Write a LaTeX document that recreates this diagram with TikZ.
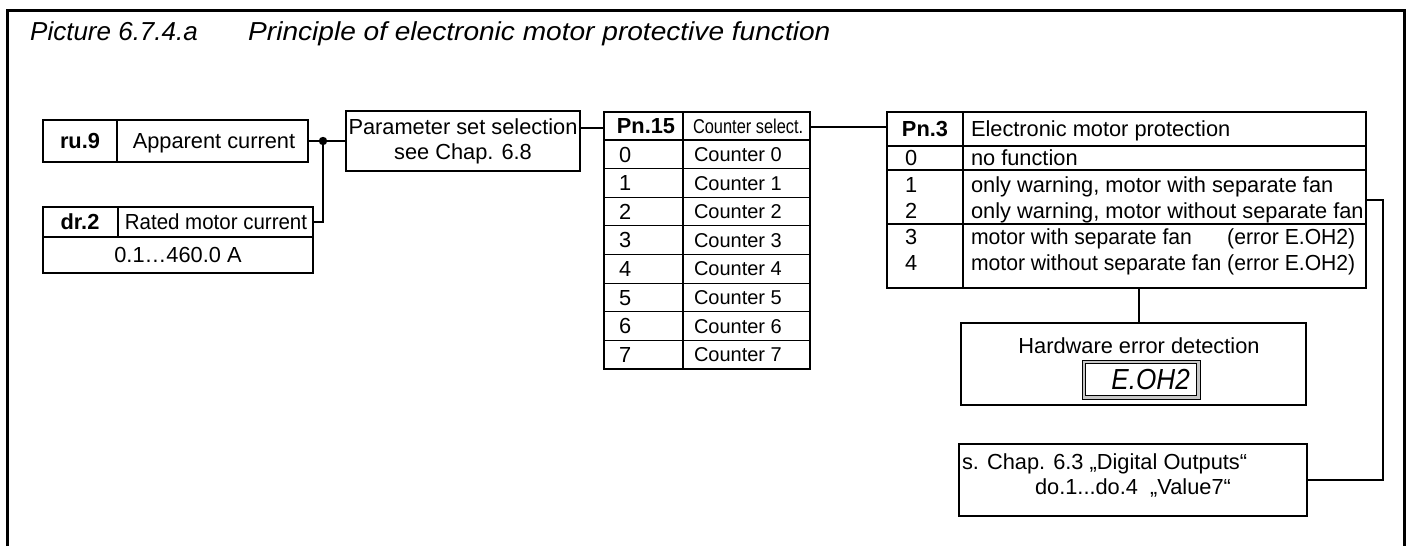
\documentclass[tikz,border=0pt]{standalone}
\usepackage{fontspec}
\setmainfont{Liberation Sans}
\begin{document}
\begin{tikzpicture}[x=1pt,y=-1pt,
  boxn/.style={draw, line width=1.1pt, outer sep=0pt, inner sep=0pt, anchor=north west},
  ln/.style={line width=1.1pt},
  heavy/.style={line width=2.4pt},
  txt/.style={inner sep=0pt, outer sep=0pt, font=\fontsize{21.8}{25}\selectfont, text height=15.6pt, text depth=0pt},
  ctxt/.style={txt, font=\fontsize{20}{25}\selectfont, text height=14.3pt},
  bld/.style={txt, font=\fontsize{21.8}{25}\selectfont\bfseries},
  ttl/.style={inner sep=0pt, anchor=base west, font=\fontsize{26}{30}\selectfont\itshape}
]
\useasboundingbox (0,0) rectangle (1412,546);
% frame
\draw[line width=3pt] (7.5,546) -- (7.5,10.5) -- (1404,10.5) -- (1404,546);
% title
\node[ttl] (t1) at (30,40.5) {Picture 6.7.4.a};
\node[ttl] (t2) at (248,40.5) {\scalebox{1.08}[1]{Principle of electronic motor protective function}};

% ru.9
\node[boxn, minimum width=265pt, minimum height=42pt] (ru9) at (43,120) {};
\draw[ln] (117,120) -- (117,162);
\node[bld] (ru9a) at (80,141) {ru.9};
\node[txt] (ru9b) at (214,141) {Apparent current};

% dr.2
\node[boxn, minimum width=270pt, minimum height=30pt] (dr2h) at (43,207) {};
\node[boxn, minimum width=270pt, minimum height=36pt] (dr2v) at (43,237) {};
\draw[ln] (118,207) -- (118,237);
\node[bld] (dr2a) at (80,222) {dr.2};
\node[txt] (dr2b) at (216,222) {\scalebox{0.94}[1]{Rated motor current}};
\node[txt] (dr2c) at (178,255) {0.1…460.0 A};

% parameter set selection
\node[boxn, minimum width=234pt, minimum height=60pt, align=center, font=\fontsize{21.8}{25}\selectfont] (par) at (346,111) {Parameter set selection\\see Chap. 6.8};

% junction
\coordinate (j) at (323,141);
\draw[ln] (ru9.east) -- (ru9.east -| par.west);
\draw[ln] (j) |- (dr2h.east);
\fill (j) circle (4.2pt);

% counter table
\node[boxn, minimum width=206pt, minimum height=257pt] (ctab) at (604,112) {};
\draw[ln] (683,112) -- (683,369);
\node[bld] (pn15) at (646,126) {Pn.15};
\node[ctxt, anchor=west] (cs) at (693,126) {\scalebox{0.82}[1]{Counter select.}};
\foreach \i in {0,...,7} {
  \draw[ln] (604,{140+28.625*\i}) -- (810,{140+28.625*\i});
  \node[txt, anchor=west] (cn\i) at (619,{154.3+28.625*\i}) {\i};
  \node[ctxt, anchor=west] (cc\i) at (694,{154.3+28.625*\i}) {Counter \i};
}
\draw[ln] ([yshift=13pt]par.east) -- ([yshift=13pt]par.east -| ctab.west);

% Pn.3 table
\node[boxn, minimum width=479pt, minimum height=176pt] (pn3) at (887,112) {};
\draw[ln] (963,112) -- (963,288);
\draw[ln] (887,146) -- (1366,146);
\draw[ln] (887,170) -- (1366,170);
\draw[ln] (887,224) -- (1366,224);
\draw[ln] ([yshift=-15pt]ctab.north east) -- ([yshift=-15pt]ctab.north east -| pn3.west);
\node[bld] (p3a) at (925,129) {Pn.3};
\node[txt, anchor=west] (p3b) at (971,129) {Electronic motor protection};
\node[txt, anchor=west] (r0a) at (905,158) {0};
\node[txt, anchor=west] (r0b) at (971,158) {no function};
\node[txt, anchor=west] (r1a) at (905,185) {1};
\node[txt, anchor=west] (r1b) at (971,185) {only warning, motor with separate fan};
\node[txt, anchor=west] (r2a) at (905,210.5) {2};
\node[txt, anchor=west] (r2b) at (971,210.5) {only warning, motor without separate fan};
\node[txt, anchor=west] (r3a) at (905,237) {3};
\node[txt, anchor=west] (r3b) at (971,237) {\scalebox{0.97}[1]{\setbox0\hbox{motor without separate fan (error E.OH2)}\hbox to \wd0{motor with separate fan\hfill(error E.OH2)}}};
\node[txt, anchor=west] (r4a) at (905,263) {4};
\node[txt, anchor=west] (r4b) at (971,263) {\scalebox{0.97}[1]{motor without separate fan (error E.OH2)}};

% hardware error detection
\node[boxn, minimum width=345pt, minimum height=82pt] (hw) at (961,323) {};
\node[txt] (hwt) at (1139,346) {Hardware error detection};
\draw[heavy] ([xshift=5.5pt]hw.north) -- ([xshift=5.5pt]hw.north |- pn3.south);
\node[draw, line width=0.8pt, fill=gray!45, minimum width=118pt, minimum height=39pt, outer sep=0pt, inner sep=0pt, anchor=north west] (disp) at (1082,360) {};
\node[draw, line width=0.8pt, fill=white, minimum width=111pt, minimum height=32pt, outer sep=0pt, inner sep=0pt] (dispin) at (disp.center) {};
\node[inner sep=0pt, anchor=east, font=\fontsize{29}{29}\selectfont\itshape] (eoh) at (1190,380) {\scalebox{0.9}[1]{E.OH2}};

% s. Chap box
\node[boxn, minimum width=348pt, minimum height=72pt] (sc) at (959,444) {};
\node[txt, anchor=west] (sc1) at (962,462) {s. Chap. 6.3 „Digital Outputs“};
\node[txt, anchor=west] (sc2) at (1035,487) {do.1...do.4\ \ „Value7“};
\draw[heavy] ([yshift=-88pt]pn3.north east) -- ++(17,0) |- (sc.east);
\end{tikzpicture}
\end{document}
